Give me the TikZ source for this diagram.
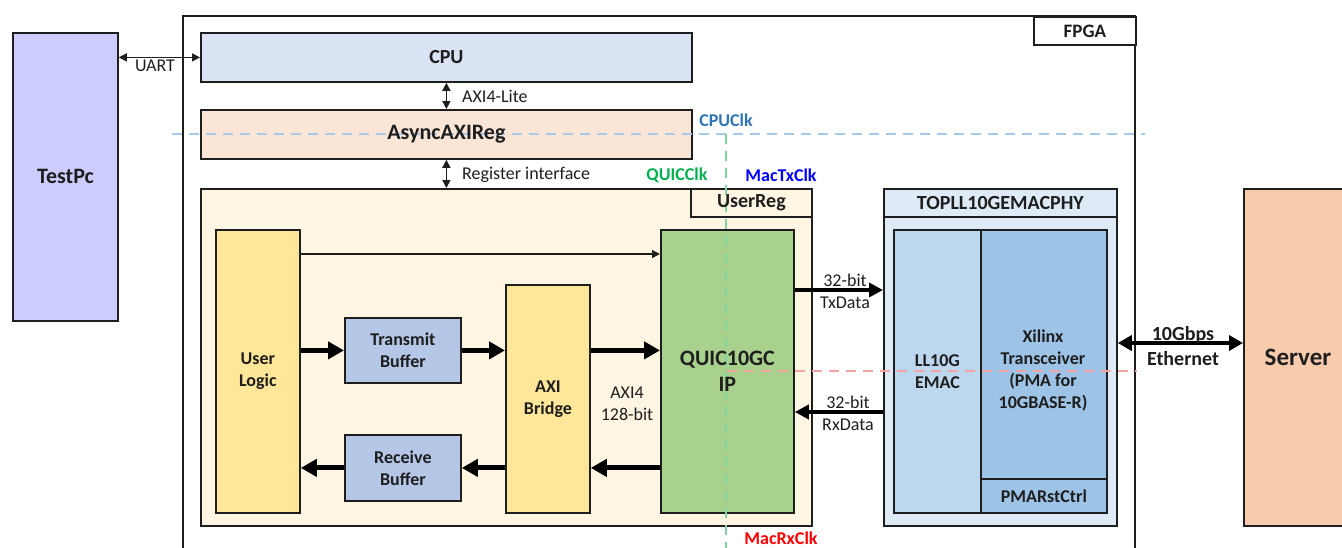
\documentclass[tikz,border=0pt]{standalone}
\usepackage{fontspec}
\setmainfont{Carlito}
\usetikzlibrary{arrows.meta,calc}
\definecolor{testpcc}{HTML}{CCCCFF}
\definecolor{cpuc}{HTML}{DAE3F3}
\definecolor{asyncc}{HTML}{FBE5D6}
\definecolor{userregc}{HTML}{FEF5E3}
\definecolor{yellowc}{HTML}{FFE699}
\definecolor{bufc}{HTML}{B4C7E7}
\definecolor{quicc}{HTML}{A9D18E}
\definecolor{topc}{HTML}{DEEBF7}
\definecolor{emacc}{HTML}{BDD7EE}
\definecolor{xilc}{HTML}{9DC3E6}
\definecolor{serverc}{HTML}{F8CBAD}
\definecolor{cpuclkt}{HTML}{2E75B6}
\definecolor{cpuclkl}{HTML}{A9C9E8}
\definecolor{quicclkt}{HTML}{00B050}
\definecolor{quicclkl}{HTML}{80D6A2}
\definecolor{mactxt}{HTML}{0000FF}
\definecolor{macrxt}{HTML}{FF0000}
\definecolor{macrxl}{HTML}{F4A3A3}
\definecolor{txtc}{HTML}{1E1E1E}
\newcommand{\fsz}[2]{\fontsize{#1}{#2}\selectfont}
\begin{document}
\begin{tikzpicture}[x=1pt,y=-1pt,
  box/.style={draw=txtc, line width=1.8pt, rectangle, inner sep=0pt, anchor=north west},
  lbl/.style={inner sep=0pt, align=center, text=txtc, font=\fsz{18}{22}\bfseries},
  small/.style={inner sep=0pt, align=center, text=txtc, font=\fsz{18}{22}},
  clk/.style={inner sep=0pt, font=\fsz{18}{22}\bfseries},
  thinarr/.style={line width=1.5pt, -{Triangle[length=8pt,width=8pt]}},
  thinbi/.style={line width=1.5pt, {Triangle[length=8pt,width=8pt]}-{Triangle[length=8pt,width=8pt]}},
  fatarr/.style={line width=5pt, -{Triangle[length=16pt,width=17pt]}},
  midarr/.style={line width=3.8pt, -{Triangle[length=14pt,width=14pt]}},
  midbi/.style={line width=3.8pt, {Triangle[length=14pt,width=15pt]}-{Triangle[length=14pt,width=15pt]}},
  clkline/.style={line width=1.3pt, dash pattern=on 10pt off 7pt}
]
\useasboundingbox (0,0) rectangle (1342,547);
\clip (0,0) rectangle (1342,547);

% FPGA frame
\draw[line width=1.8pt, txtc] (183,552) -- (183,16) -- (1135,16) -- (1135,552);
\node[box, fill=white, minimum width=102pt, minimum height=28pt] (fpgalbl) at (1033,16) {};

% boxes
\node[box, fill=testpcc, minimum width=105pt, minimum height=288pt] (testpc) at (12,32) {};
\node[box, fill=cpuc, minimum width=491pt, minimum height=49pt] (cpu) at (200,32) {};
\node[box, fill=asyncc, minimum width=491pt, minimum height=49pt] (async) at (200,109) {};
\node[box, fill=userregc, minimum width=611pt, minimum height=337pt] (userreg) at (200,188) {};
\node[box, fill=userregc, minimum width=121pt, minimum height=28pt] (userreglbl) at (690,188) {};
\node[box, fill=yellowc, minimum width=84pt, minimum height=283pt] (ul) at (215,229) {};
\node[box, fill=bufc, minimum width=116pt, minimum height=65pt] (tb) at (344,317) {};
\node[box, fill=bufc, minimum width=116pt, minimum height=66pt] (rb) at (344,434) {};
\node[box, fill=yellowc, minimum width=84pt, minimum height=228pt] (axi) at (505,284) {};
\node[box, fill=quicc, minimum width=133pt, minimum height=283pt] (quic) at (660,229) {};
\node[box, fill=topc, minimum width=233pt, minimum height=337pt] (top) at (883,188) {};
\node[box, fill=topc, minimum width=233pt, minimum height=28pt] (toplbl) at (883,188) {};
\node[box, fill=emacc, minimum width=87pt, minimum height=283pt] (emac) at (893,229) {};
\node[box, fill=xilc, minimum width=126pt, minimum height=249pt] (xil) at (980,229) {};
\node[box, fill=xilc, minimum width=126pt, minimum height=34pt] (pma) at (980,478) {};
\node[box, fill=serverc, minimum width=120pt, minimum height=337pt] (server) at (1243,188) {};

% clock domain lines
\coordinate (cpuclkA) at (172,134);
\coordinate (cpuclkB) at (1145,134);
\coordinate (quicA) at (726,134);
\coordinate (quicB) at (726,552);
\coordinate (macrxA) at (727,371);
\coordinate (macrxB) at (1137,371);
\draw[clkline, cpuclkl] (cpuclkA) -- (cpuclkB);
\draw[clkline, quicclkl] (quicA) -- (quicB);
\draw[clkline, macrxl] (macrxA) -- (macrxB);

% texts
\node[lbl, font=\fsz{19}{22}\bfseries] (fpgat) at (fpgalbl.center) {FPGA};
\node[lbl, font=\fsz{22}{26}\bfseries] (testpct) at (testpc.center) {TestPc};
\node[lbl, font=\fsz{20}{24}\bfseries] (cput) at (cpu.center) {CPU};
\node[lbl, font=\fsz{22}{26}\bfseries] (asynct) at (async.center) {AsyncAXIReg};
\node[lbl, font=\fsz{20}{24}\bfseries] (userregt) at (userreglbl.center) {UserReg};
\node[lbl] (ult) at (ul.center) {User\\Logic};
\node[lbl] (tbt) at (tb.center) {Transmit\\Buffer};
\node[lbl] (rbt) at (rb.center) {Receive\\Buffer};
\node[lbl] (axit) at (axi.center) {AXI\\Bridge};
\node[lbl, font=\fsz{22}{26}\bfseries] (quict) at (quic.center) {QUIC10GC\\IP};
\node[lbl, font=\fsz{20}{24}\bfseries] (toplblt) at (toplbl.center) {TOPLL10GEMACPHY};
\node[lbl] (emact) at (emac.center) {LL10G\\EMAC};
\node[lbl] (xilt) at (1043,371) {Xilinx\\Transceiver\\(PMA for\\10GBASE-R)};
\node[lbl] (pmat) at (pma.center) {PMARstCtrl};
\node[lbl, font=\fsz{25}{30}\bfseries] (servert) at (server.center -| 1298,0) {Server};

\node[clk, text=cpuclkt] (cpuclkt) at (726,120) {CPUClk};
\node[clk, text=quicclkt] (quicclkt) at (677,175) {QUICClk};
\node[clk, text=mactxt] (mactxt) at (781,175) {MacTxClk};
\node[clk, text=macrxt] (macrxt) at (781,538) {MacRxClk};

% connectors
\draw[thinbi, txtc] (testpc.east |- cpu.west) -- (cpu.west);
\node[small] (uartt) at (155,66) {UART};
\draw[thinbi, txtc] (cpu.south) -- (async.north);
\node[small, anchor=west] (axilitet) at (462,96) {AXI4-Lite};
\draw[thinbi, txtc] (async.south) -- (async.south |- userreg.north);
\node[small, anchor=west] (regift) at (462,175) {Register interface};

\draw[thinarr, txtc] ($(ul.north east)+(0,25)$) -- ($(ul.north east -| quic.west)+(0,25)$);
\draw[fatarr] (ul.east |- tb.west) -- (tb.west);
\draw[fatarr] (tb.east) -- (tb.east -| axi.west);
\draw[fatarr] (axi.east |- tb.east) -- (quic.west |- tb.east);
\draw[fatarr] (quic.west |- rb.east) -- (axi.east |- rb.east);
\draw[fatarr] (axi.west |- rb.east) -- (rb.east);
\draw[fatarr] (rb.west) -- (ul.east |- rb.west);
\node[small] (axi4t) at (627,404) {AXI4\\128-bit};

\draw[midarr] ($(quic.north east)+(0,61)$) -- ($(quic.north east -| top.west)+(0,61)$);
\node[small] (txt) at (845,291) {32-bit\\TxData};
\draw[midarr] ($(quic.north east -| top.west)+(0,183)$) -- ($(quic.north east)+(0,183)$);
\node[small] (rxt) at (848,413) {32-bit\\RxData};

\draw[midbi] ($(top.north east)+(0,155)$) -- ($(top.north east -| server.west)+(0,155)$);
\node[lbl, font=\fsz{20}{25}\bfseries] (etht) at (1183,346) {10Gbps\\Ethernet};
\end{tikzpicture}
\end{document}
